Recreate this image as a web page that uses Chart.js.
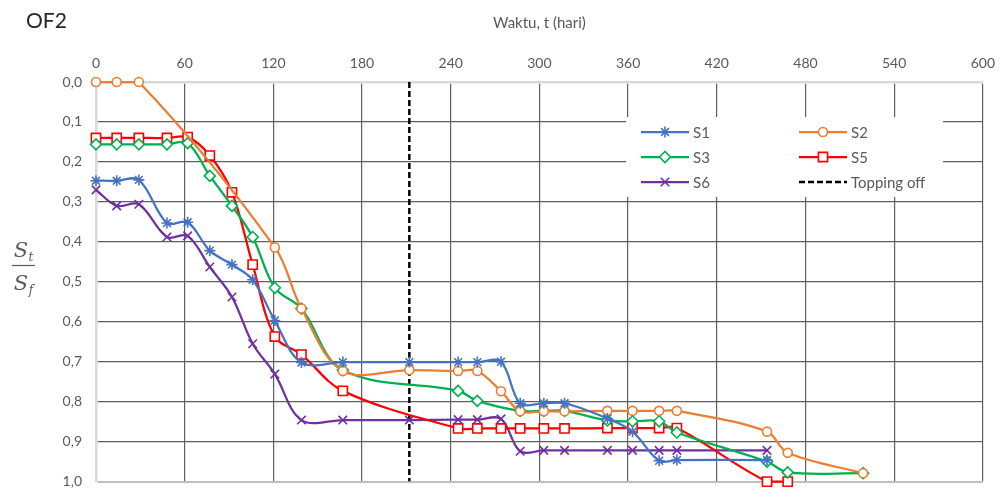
<!DOCTYPE html>
<html>
<head>
<meta charset="utf-8">
<script src="https://cdn.jsdelivr.net/npm/chart.js@4.4.1/dist/chart.umd.min.js"></script>
<style>
  html, body { margin: 0; padding: 0; background: #ffffff; }
  canvas { display: block; }
</style>
</head>
<body>
<canvas id="chart" width="1005" height="504"></canvas>
<script>
// Axis ticks
const dayTicks = [0, 60, 120, 180, 240, 300, 360, 420, 480, 540, 600];
const ratioTicks = [0, 0.1, 0.2, 0.3, 0.4, 0.5, 0.6, 0.7, 0.8, 0.9, 1.0];

// Settlement ratio St/Sf per monitoring point, by day
const s1Days  = [0, 14, 29, 48, 62, 77, 92, 106, 121, 139, 167, 212, 245, 258, 274, 287, 303, 317, 346, 363, 381, 393, 454];
const s1Ratio = [0.247, 0.247, 0.245, 0.353, 0.351, 0.422, 0.457, 0.495, 0.597, 0.702, 0.701, 0.701, 0.701, 0.701, 0.700, 0.804, 0.804, 0.804, 0.842, 0.875, 0.948, 0.946, 0.946];

const s2Days  = [0, 14, 29, 121, 139, 167, 212, 245, 258, 274, 287, 303, 317, 346, 363, 381, 393, 454, 468, 519];
const s2Ratio = [0, 0, 0, 0.414, 0.567, 0.723, 0.721, 0.723, 0.723, 0.774, 0.824, 0.824, 0.824, 0.823, 0.823, 0.823, 0.823, 0.875, 0.928, 0.979];

const s3Days  = [0, 14, 29, 48, 62, 77, 92, 106, 121, 139, 167, 245, 258, 287, 303, 317, 346, 363, 381, 393, 454, 468, 519];
const s3Ratio = [0.156, 0.156, 0.156, 0.156, 0.153, 0.235, 0.310, 0.388, 0.515, 0.567, 0.721, 0.773, 0.798, 0.823, 0.823, 0.823, 0.847, 0.849, 0.849, 0.877, 0.950, 0.977, 0.979];

const s5Days  = [0, 14, 29, 48, 62, 77, 92, 106, 121, 139, 167, 245, 258, 274, 287, 303, 317, 346, 363, 381, 393, 454, 468];
const s5Ratio = [0.140, 0.140, 0.140, 0.140, 0.138, 0.184, 0.276, 0.457, 0.637, 0.682, 0.773, 0.867, 0.867, 0.867, 0.867, 0.867, 0.867, 0.866, 0.866, 0.866, 0.866, 1.0, 1.0];

const s6Days  = [0, 14, 29, 48, 62, 77, 92, 106, 121, 139, 167, 212, 245, 258, 274, 287, 303, 317, 346, 363, 381, 393, 454];
const s6Ratio = [0.270, 0.310, 0.306, 0.388, 0.385, 0.463, 0.538, 0.655, 0.731, 0.846, 0.846, 0.846, 0.845, 0.845, 0.843, 0.924, 0.922, 0.922, 0.922, 0.922, 0.922, 0.922, 0.922];

// Topping-off day (vertical marker)
const toppingOffDay = [212, 212];
const toppingOffSpan = [0, 1];

const TEXT = '#595959';
const FONT = 'Lato, "Open Sans", sans-serif';

const pairs = (xs, ys) => xs.map((x, i) => ({ x, y: ys[i] }));

function series(label, days, ratio, color, style, radius) {
  return {
    label,
    data: pairs(days, ratio),
    borderColor: color,
    backgroundColor: '#ffffff',
    borderWidth: 2.25,
    tension: 0.35,
    clip: false,
    pointStyle: style,
    pointRadius: radius,
    pointBorderColor: color,
    pointBackgroundColor: '#ffffff',
    pointBorderWidth: 1.6,
    pointHoverRadius: radius
  };
}

const datasets = [
  series('S1', s1Days, s1Ratio, '#4472C4', 'star', 5.5),
  series('S2', s2Days, s2Ratio, '#ED7D31', 'circle', 4.5),
  series('S3', s3Days, s3Ratio, '#00B050', 'rectRot', 5.5),
  series('S5', s5Days, s5Ratio, '#FF0000', 'rect', 6.5),
  series('S6', s6Days, s6Ratio, '#7030A0', 'crossRot', 6),
  {
    label: 'Topping off',
    data: pairs(toppingOffDay, toppingOffSpan),
    borderColor: '#000000',
    borderWidth: 2.5,
    borderDash: [6, 3],
    pointRadius: 0,
    tension: 0
  }
];

// Chart title, y-axis fraction label and the boxed in-plot legend
const annotations = {
  id: 'annotations',
  beforeDatasetsDraw(chart) {
    const ctx = chart.ctx;
    ctx.save();
    // legend box
    const box = { x: 626, y: 117, w: 317, h: 80 };
    ctx.fillStyle = '#ffffff';
    ctx.fillRect(box.x, box.y, box.w, box.h);
    const cols = [641, 799];
    const rows = [132, 157, 182];
    chart.data.datasets.forEach((ds, i) => {
      const lx = cols[i % 2];
      const ly = rows[Math.floor(i / 2)];
      ctx.strokeStyle = ds.borderColor;
      ctx.lineWidth = ds.borderWidth;
      ctx.setLineDash(ds.borderDash || []);
      ctx.beginPath();
      ctx.moveTo(lx, ly);
      ctx.lineTo(lx + 48, ly);
      ctx.stroke();
      ctx.setLineDash([]);
      if (ds.pointRadius > 0) {
        ctx.fillStyle = ds.pointBackgroundColor;
        ctx.strokeStyle = ds.pointBorderColor;
        ctx.lineWidth = ds.pointBorderWidth;
        Chart.helpers.drawPoint(ctx, {
          pointStyle: ds.pointStyle,
          radius: ds.pointRadius,
          borderWidth: ds.pointBorderWidth,
          rotation: 0
        }, lx + 24, ly);
      }
      ctx.fillStyle = TEXT;
      ctx.font = '15px ' + FONT;
      ctx.textAlign = 'left';
      ctx.textBaseline = 'middle';
      ctx.fillText(ds.label, lx + 52, ly + 1);
    });
    ctx.restore();
  },
  afterDraw(chart) {
    const ctx = chart.ctx;
    ctx.save();
    // chart title
    ctx.fillStyle = '#262626';
    ctx.font = '21px ' + FONT;
    ctx.textAlign = 'left';
    ctx.textBaseline = 'middle';
    ctx.fillText('OF2', 26, 21);
    // y-axis label St / Sf
    ctx.fillStyle = TEXT;
    const cx = 24;
    ctx.font = 'italic 21px "DejaVu Serif", serif';
    ctx.textAlign = 'center';
    ctx.textBaseline = 'alphabetic';
    ctx.fillText('S', cx - 3, 257);
    ctx.fillText('S', cx - 3, 290);
    ctx.font = 'italic 12px "DejaVu Serif", serif';
    ctx.fillText('t', cx + 7, 261);
    ctx.fillText('f', cx + 7, 294);
    ctx.strokeStyle = TEXT;
    ctx.lineWidth = 1.2;
    ctx.beginPath();
    ctx.moveTo(12, 265.5);
    ctx.lineTo(35, 265.5);
    ctx.stroke();
    ctx.restore();
  }
};

const gridColor = (edgeColor) => (c) => {
  if (c.index === 0) return edgeColor;
  return '#5f5f5f';
};

new Chart(document.getElementById('chart'), {
  type: 'line',
  data: { datasets },
  plugins: [annotations],
  options: {
    responsive: false,
    animation: false,
    layout: { padding: { left: 0, top: 0, right: 19, bottom: 12 } },
    plugins: {
      legend: { display: false },
      tooltip: { enabled: false }
    },
    scales: {
      x: {
        type: 'linear',
        position: 'top',
        min: 0,
        max: 600,
        afterBuildTicks: (s) => { s.ticks = dayTicks.map(v => ({ value: v })); },
        afterFit: (s) => { s.height = 82; },
        ticks: {
          color: TEXT,
          font: { family: FONT, size: 14 },
          padding: 10,
          maxRotation: 0,
          autoSkip: false
        },
        grid: { color: gridColor('#d9d9d9'), lineWidth: 1.2, drawTicks: false },
        border: { color: '#d9d9d9', width: 2.5 },
        title: {
          display: true,
          text: 'Waktu, t (hari)',
          color: TEXT,
          font: { family: FONT, size: 15 },
          padding: { top: 14, bottom: 0 }
        }
      },
      y: {
        type: 'linear',
        reverse: true,
        min: 0,
        max: 1,
        afterBuildTicks: (s) => { s.ticks = ratioTicks.map(v => ({ value: v })); },
        afterFit: (s) => { s.width = 96; },
        ticks: {
          color: TEXT,
          font: { family: FONT, size: 14 },
          padding: 14,
          autoSkip: false,
          callback: (v) => Number(v).toFixed(1).replace('.', ',')
        },
        grid: {
          color: (c) => (c.index === 0 ? '#d9d9d9' : (c.index === ratioTicks.length - 1 ? '#bfbfbf' : '#5f5f5f')),
          lineWidth: (c) => (c.index === ratioTicks.length - 1 ? 2 : 1.2),
          drawTicks: false
        },
        border: { color: '#d9d9d9', width: 2.5 }
      }
    }
  }
});
</script>
</body>
</html>
